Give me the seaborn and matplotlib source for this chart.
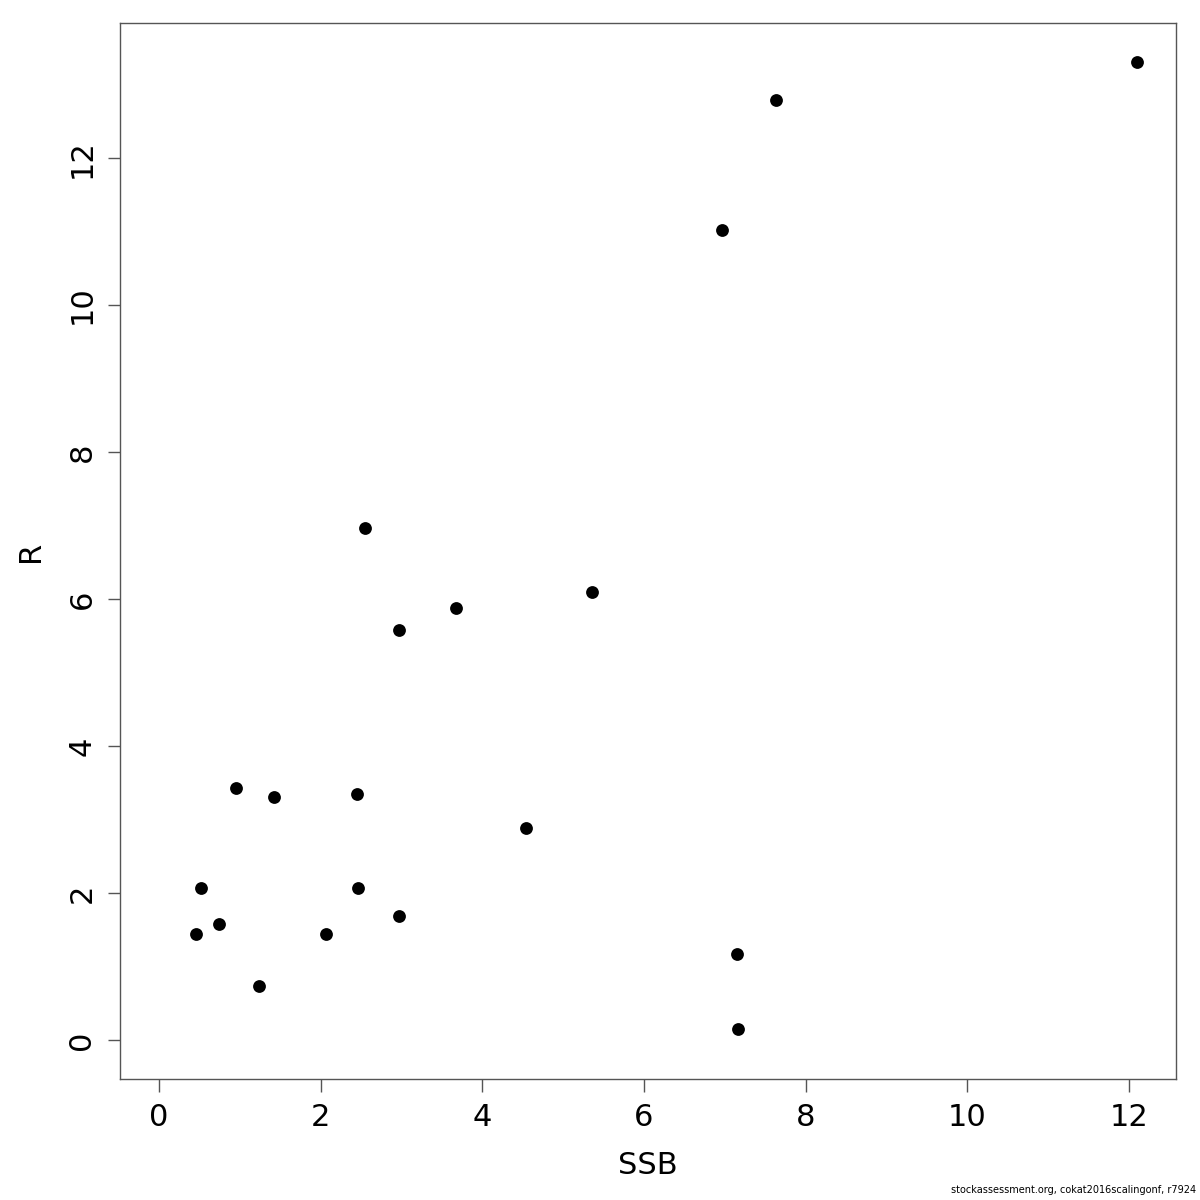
import pandas as pd
import numpy as np
import matplotlib.pyplot as plt
import seaborn as sns

# Stock-recruitment data
ssb = [12.10, 7.64, 6.97, 2.55, 5.36, 3.68, 2.97, 0.95, 1.42, 2.45,
       4.54, 0.52, 2.46, 2.97, 0.74, 0.46, 2.07, 1.24, 7.15, 7.16]
rec = [13.31, 12.79, 11.02, 6.97, 6.09, 5.88, 5.58, 3.43, 3.31, 3.35,
       2.89, 2.07, 2.07, 1.69, 1.58, 1.44, 1.44, 0.74, 1.17, 0.15]
x_ticks = [0, 2, 4, 6, 8, 10, 12]
y_ticks = [0, 2, 4, 6, 8, 10, 12]
footer = "stockassessment.org, cokat2016scalingonf, r7924"

df = pd.DataFrame({'SSB': ssb, 'R': rec})

sns.set_style('white')
plt.rcParams['font.family'] = ['DejaVu Sans']
plt.rcParams['text.color'] = 'black'
plt.rcParams['axes.labelcolor'] = 'black'
plt.rcParams['xtick.color'] = 'black'
plt.rcParams['ytick.color'] = 'black'

fig = plt.figure(figsize=(12, 12), dpi=100)
ax = fig.add_axes([0.1, 0.1008, 0.88, 0.8802])

sns.scatterplot(data=df, x='SSB', y='R', ax=ax, color='black', s=85,
                edgecolor='black', linewidth=0)

ax.set_xlim(-0.484, 12.584)
ax.set_ylim(-0.532, 13.842)
ax.set_xticks(x_ticks)
ax.set_yticks(y_ticks)
ax.set_xticklabels([str(t) for t in x_ticks], fontsize=22)
ax.set_yticklabels([str(t) for t in y_ticks], fontsize=22, rotation=90, va='center')
ax.tick_params(axis='both', direction='out', length=9, width=1, color='#555555',
               labelcolor='black', pad=8, bottom=True, left=True)
for sp in ax.spines.values():
    sp.set_visible(True)
    sp.set_color('#555555')
    sp.set_linewidth(1)

ax.set_xlabel('SSB', fontsize=22, labelpad=14, color='black')
ax.set_ylabel('R', fontsize=22, labelpad=16, color='black')

fig.text(0.997, 0.004, footer, fontsize=7, ha='right', va='bottom', color='black')

plt.savefig('out.png', dpi=100)
plt.close()
